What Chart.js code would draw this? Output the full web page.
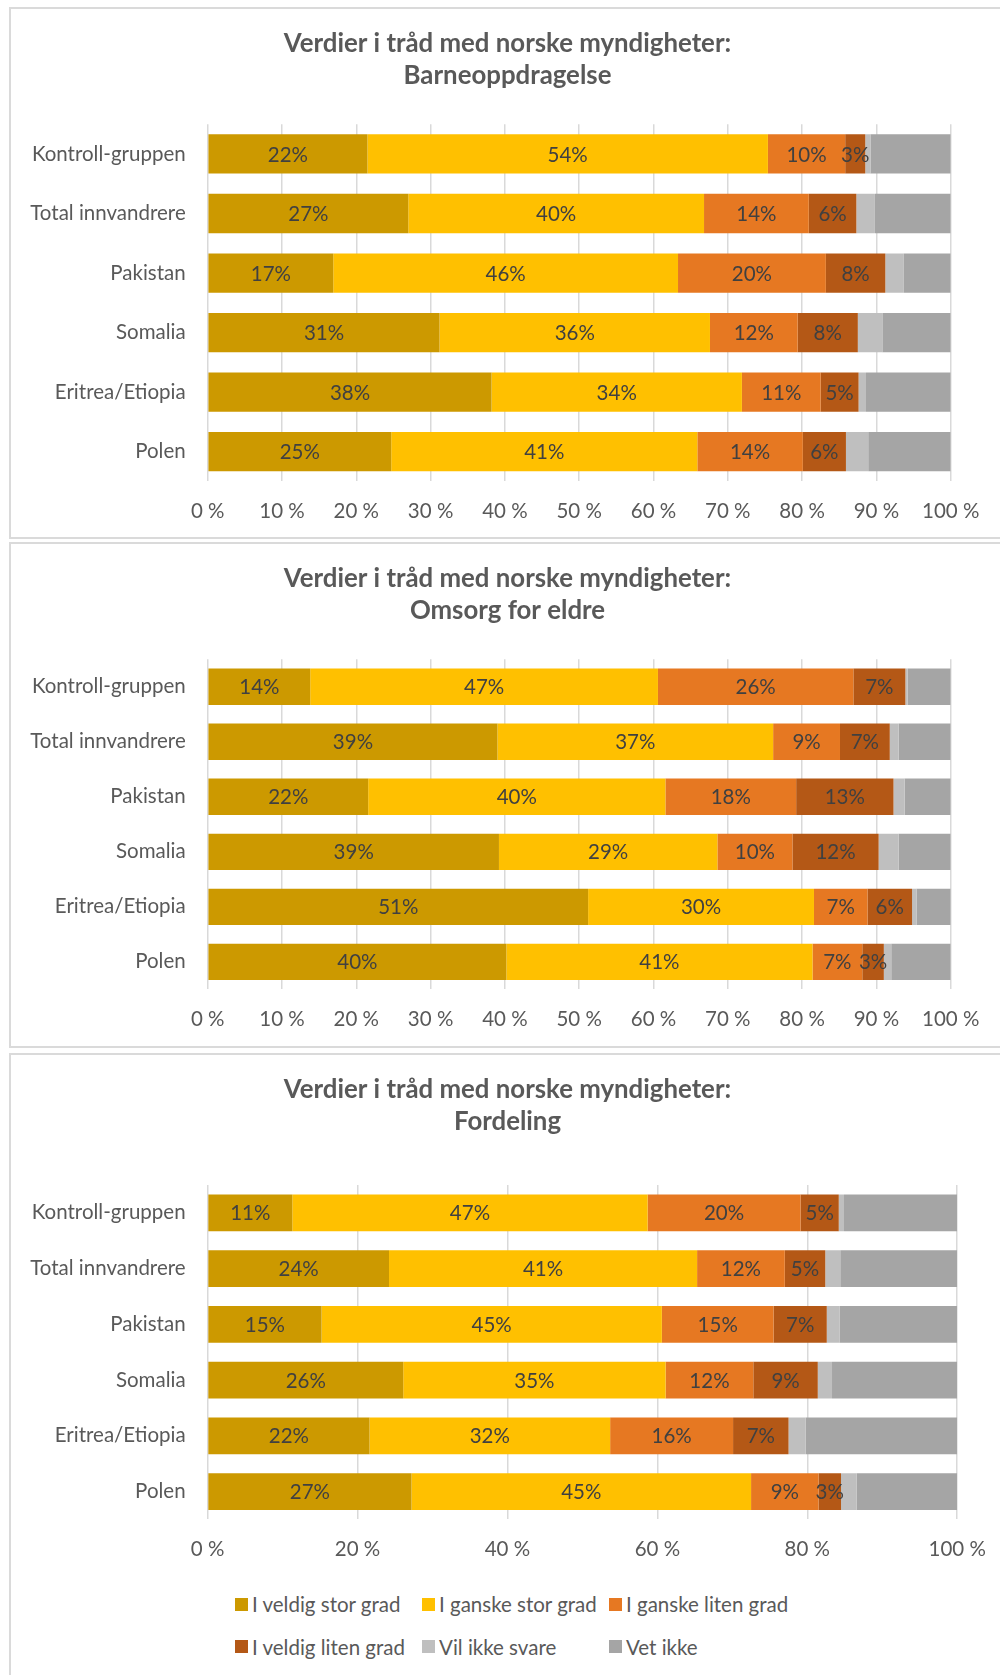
<!DOCTYPE html>
<html><head><meta charset="utf-8">
<script src="https://cdn.jsdelivr.net/npm/chart.js@4/dist/chart.umd.min.js"></script>
<style>
html,body{margin:0;padding:0;background:#fff;}
body{width:1000px;height:1675px;overflow:hidden;position:relative;font-family:Lato,sans-serif;}
.box{position:absolute;left:9px;width:1000px;border:2px solid #DADADA;box-sizing:border-box;}
canvas{position:absolute;left:0;}
.legend{position:absolute;left:235px;top:1583px;display:grid;grid-template-columns:187px 187px 187px;grid-auto-rows:42.5px;}
.legend .it{display:flex;align-items:center;font-size:20.5px;color:#595959;white-space:nowrap;}
.legend .sw{width:13px;height:13px;margin-right:4px;flex:none;}
</style>
</head>
<body>
<div class="box" style="top:7px;height:532px;"></div>
<div class="box" style="top:542px;height:506px;"></div>
<div class="box" style="top:1053px;height:640px;"></div>
<canvas id="c1" width="1015" height="532" style="top:9px;"></canvas>
<canvas id="c2" width="1015" height="505" style="top:544px;"></canvas>
<canvas id="c3" width="1015" height="524" style="top:1055px;"></canvas>
<div class="legend" id="legend"></div>
<script>
// ---- data ----
const categories = ['Kontroll-gruppen','Total innvandrere','Pakistan','Somalia','Eritrea/Etiopia','Polen'];
const seriesNames = ['I veldig stor grad','I ganske stor grad','I ganske liten grad','I veldig liten grad','Vil ikke svare','Vet ikke'];
const seriesColors = ['#CC9900','#FFC000','#E67822','#B45816','#BFBFBF','#A5A5A5'];
const titleMain = 'Verdier i tråd med norske myndigheter:';
const panelTitles = ['Barneoppdragelse','Omsorg for eldre','Fordeling'];

// Barneoppdragelse
const barn_veldigStor  = [21.5, 27.0, 16.9, 31.2, 38.2, 24.7];
const barn_ganskeStor  = [53.9, 39.8, 46.4, 36.4, 33.7, 41.2];
const barn_ganskeLiten = [10.4, 14.1, 19.9, 11.8, 10.6, 14.2];
const barn_veldigLiten = [2.7, 6.4, 8.0, 8.1, 5.1, 5.8];
const barn_vilIkke     = [0.7, 2.5, 2.5, 3.3, 1.0, 3.0];
const barn_vetIkke     = [10.8, 10.2, 6.3, 9.2, 11.4, 11.1];

// Omsorg for eldre
const oms_veldigStor  = [13.8, 39.0, 21.6, 39.2, 51.2, 40.2];
const oms_ganskeStor  = [46.8, 37.1, 40.0, 29.4, 30.4, 41.2];
const oms_ganskeLiten = [26.3, 9.0, 17.6, 10.1, 7.2, 6.7];
const oms_veldigLiten = [7.0, 6.7, 13.1, 11.6, 6.0, 2.9];
const oms_vilIkke     = [0.3, 1.2, 1.5, 2.7, 0.6, 1.0];
const oms_vetIkke     = [5.8, 7.0, 6.2, 7.0, 4.6, 8.0];

// Fordeling
const ford_veldigStor  = [11.3, 24.2, 15.2, 26.1, 21.6, 27.2];
const ford_ganskeStor  = [47.4, 41.1, 45.4, 35.0, 32.1, 45.3];
const ford_ganskeLiten = [20.4, 11.7, 14.9, 11.7, 16.4, 9.0];
const ford_veldigLiten = [5.1, 5.4, 7.1, 8.6, 7.4, 3.0];
const ford_vilIkke     = [0.7, 2.0, 1.7, 1.9, 2.3, 2.1];
const ford_vetIkke     = [15.1, 15.6, 15.7, 16.7, 20.2, 13.4];

const xTicksStep = [10, 10, 20];

// ---- chart ----
const FONT = 'Lato, "Open Sans", sans-serif';
const FS = 20.5;
const CANVAS_W = 1015;

const segLabels = {
  id: 'segLabels',
  afterDatasetsDraw(chart) {
    const ctx = chart.ctx;
    ctx.save();
    ctx.font = FS + 'px ' + FONT;
    ctx.fillStyle = '#404040';
    ctx.textAlign = 'center';
    ctx.textBaseline = 'middle';
    chart.data.datasets.forEach((ds, i) => {
      if (i > 3) return;
      const meta = chart.getDatasetMeta(i);
      meta.data.forEach((el, j) => {
        const p = el.getProps(['x', 'base', 'y'], true);
        ctx.fillText(Math.round(ds.data[j]) + '%', (p.x + p.base) / 2, p.y + 1);
      });
    });
    ctx.restore();
  }
};

function makeChart(id, subtitle, seriesData, step, opts) {
  const datasets = seriesData.map((d, i) => ({
    label: seriesNames[i],
    data: d,
    backgroundColor: seriesColors[i],
    borderWidth: 0,
    categoryPercentage: 1,
    barPercentage: 0.66
  }));
  return new Chart(document.getElementById(id), {
    type: 'bar',
    data: { labels: categories, datasets },
    plugins: [segLabels],
    options: {
      indexAxis: 'y',
      responsive: false,
      animation: false,
      devicePixelRatio: 1,
      layout: { padding: { left: 0, right: 0, top: 0, bottom: 0 } },
      plugins: {
        legend: { display: false },
        tooltip: { enabled: false },
        title: {
          display: true,
          text: [titleMain, subtitle],
          color: '#595959',
          font: { family: FONT, size: 25.8, weight: 'bold', lineHeight: 32 / 25.8 },
          padding: { top: 19, bottom: opts.titleBottom }
        }
      },
      scales: {
        x: {
          stacked: true, min: 0, max: 100,
          ticks: { stepSize: step, padding: 17.5, color: '#595959', font: { family: FONT, size: FS },
                   callback: v => v + ' %' },
          grid: { color: '#D9D9D9', lineWidth: 1.5, drawTicks: false },
          border: { display: false }
        },
        y: {
          stacked: true,
          ticks: { padding: 22, color: '#595959', font: { family: FONT, size: FS } },
          grid: { display: false, drawTicks: false },
          border: { display: false },
          afterFit: s => { s.width = opts.plotLeft; }
        },
        yRight: {
          type: 'category',
          position: 'right',
          ticks: { display: false },
          grid: { display: false, drawTicks: false },
          border: { display: false },
          afterFit: s => { s.width = CANVAS_W - opts.plotRight; }
        }
      }
    }
  });
}

makeChart('c1', panelTitles[0],
  [barn_veldigStor, barn_ganskeStor, barn_ganskeLiten, barn_veldigLiten, barn_vilIkke, barn_vetIkke],
  xTicksStep[0], { plotLeft: 207.7, plotRight: 950.7, titleBottom: 32.2 });
makeChart('c2', panelTitles[1],
  [oms_veldigStor, oms_ganskeStor, oms_ganskeLiten, oms_veldigLiten, oms_vilIkke, oms_vetIkke],
  xTicksStep[1], { plotLeft: 207.7, plotRight: 950.7, titleBottom: 32.2 });
makeChart('c3', panelTitles[2],
  [ford_veldigStor, ford_ganskeStor, ford_ganskeLiten, ford_veldigLiten, ford_vilIkke, ford_vetIkke],
  xTicksStep[2], { plotLeft: 207.6, plotRight: 957.2, titleBottom: 47 });

// legend (HTML text)
const lg = document.getElementById('legend');
seriesNames.forEach((n, i) => {
  const it = document.createElement('div');
  it.className = 'it';
  const sw = document.createElement('span');
  sw.className = 'sw';
  sw.style.background = seriesColors[i];
  it.appendChild(sw);
  it.appendChild(document.createTextNode(n));
  lg.appendChild(it);
});
</script>
</body></html>
